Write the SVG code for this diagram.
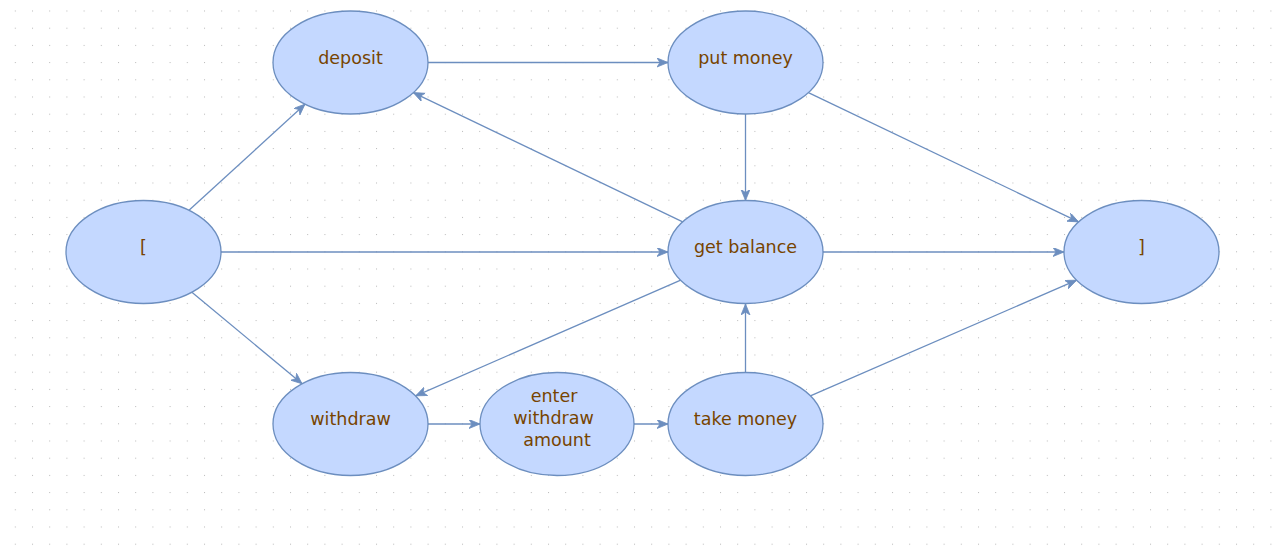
<svg xmlns="http://www.w3.org/2000/svg" width="1276" height="550" viewBox="0 0 1276 550">
<style>
.node ellipse{fill:#c4d8ff;stroke:#6c8ebf;stroke-width:1.3}
.node text{font-family:"DejaVu Sans",sans-serif;font-size:17.5px;fill:#774400;text-anchor:middle}
.edge{fill:none;stroke:#6c8ebf;stroke-width:1.3;marker-end:url(#arr)}
</style>
<defs>
<pattern id="grid" patternUnits="userSpaceOnUse" x="14.8" y="10.5" width="17.2" height="17.2">
<rect x="0" y="0" width="1" height="1" fill="#b8b8b8"/>
</pattern>
<marker id="arr" markerUnits="userSpaceOnUse" markerWidth="14" markerHeight="12" refX="11" refY="4.5" orient="auto">
<path d="M0,0 L11,4.5 L0,9 L3,4.5 Z" fill="#6c8ebf" stroke="#6c8ebf" stroke-width="0.8"/>
</marker>
</defs>
<rect width="1276" height="550" fill="#ffffff"/>
<rect width="1276" height="550" fill="url(#grid)"/>
<g id="connectors">
<path class="edge" d="M189,210.3 L305,104.2"/>
<path class="edge" d="M221,252 L668,252"/>
<path class="edge" d="M191.9,292.2 L302.1,383.8"/>
<path class="edge" d="M428,62.5 L668,62.5"/>
<path class="edge" d="M682.7,221.9 L413.3,92.6"/>
<path class="edge" d="M745.5,114 L745.5,200.5"/>
<path class="edge" d="M808.4,92.6 L1078.6,221.9"/>
<path class="edge" d="M823,252 L1064,252"/>
<path class="edge" d="M680.7,280.2 L415.7,395.8"/>
<path class="edge" d="M428,424 L480,424"/>
<path class="edge" d="M634,424 L668,424"/>
<path class="edge" d="M745.5,372 L745.5,304"/>
<path class="edge" d="M810.4,395.8 L1076.6,280.2"/>
</g>
<g id="node-deposit" class="node"><ellipse cx="350.5" cy="62.5" rx="77.5" ry="51.5"/><text x="350.5" y="64">deposit</text></g>
<g id="node-put-money" class="node"><ellipse cx="745.5" cy="62.5" rx="77.5" ry="51.5"/><text x="745.5" y="64">put money</text></g>
<g id="node-start" class="node"><ellipse cx="143.5" cy="252" rx="77.5" ry="51.5"/><text x="143.5" y="253">[</text></g>
<g id="node-get-balance" class="node"><ellipse cx="745.5" cy="252" rx="77.5" ry="51.5"/><text x="745.5" y="253">get balance</text></g>
<g id="node-end" class="node"><ellipse cx="1141.5" cy="252" rx="77.5" ry="51.5"/><text x="1141.5" y="253">]</text></g>
<g id="node-withdraw" class="node"><ellipse cx="350.5" cy="424" rx="77.5" ry="51.5"/><text x="350.5" y="425">withdraw</text></g>
<g id="node-enter-withdraw-amount" class="node"><ellipse cx="557" cy="424" rx="77" ry="51.5"/><text x="554" y="402">enter</text><text x="553.5" y="424">withdraw</text><text x="557" y="446">amount</text></g>
<g id="node-take-money" class="node"><ellipse cx="745.5" cy="424" rx="77.5" ry="51.5"/><text x="745.5" y="425">take money</text></g>
</svg>
